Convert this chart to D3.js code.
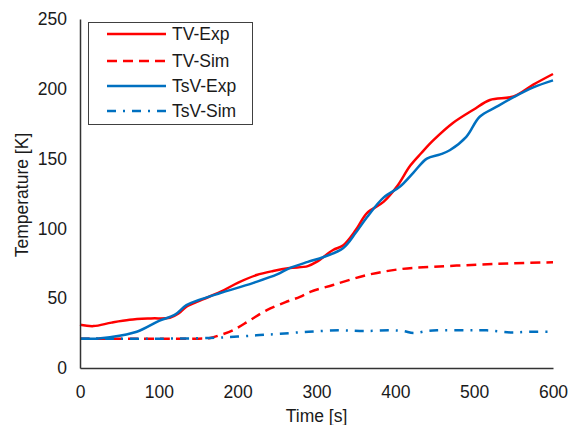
<!DOCTYPE html>
<html>
<head>
<meta charset="utf-8">
<script src="https://cdn.jsdelivr.net/npm/d3@7"></script>
<style>
  body { margin: 0; background: #fff; }
  svg text { font-family: "Liberation Sans", Arial, sans-serif; fill: #1a1a1a; }
</style>
</head>
<body>
<svg id="chart" width="570" height="425"></svg>
<script>
// values
var tvExpT   = [0, 17, 40, 63, 90, 114, 125, 135, 155, 178, 200, 224, 245, 266, 289, 300, 321, 334, 350, 364, 385, 402, 419, 433, 448, 473, 499, 520, 550, 575, 600];
var tvExpV   = [31, 30, 32.5, 34.5, 35.5, 36, 39, 44, 49, 54.5, 61, 66.6, 69.5, 71.6, 73, 76, 84.5, 88, 99, 111, 119, 130, 145, 154, 163, 175.5, 185, 192, 194.5, 203, 210.6];
var tvSimT   = [0, 50, 100, 150, 165, 180, 194, 215, 237, 260, 279, 292, 321, 364, 406, 448, 503, 550, 600];
var tvSimV   = [21, 21, 21, 21, 21.5, 24, 27, 34, 41.5, 47, 51, 54.5, 59.5, 66.6, 70.8, 72.5, 74, 75, 75.7];
var tsvExpT  = [0, 20, 38, 72, 101, 120, 135, 155, 178, 220, 250, 266, 289, 309, 334, 350, 364, 385, 406, 423, 440, 457, 469, 490, 507, 528, 550, 575, 600];
var tsvExpV  = [21, 21, 22, 26, 34, 38, 45, 49.5, 53.7, 61, 67, 71.6, 76, 79.5, 86, 97, 108, 122, 130, 140, 150, 153, 156, 165.6, 180, 187, 194, 201, 206];
var tsvSimT  = [0, 50, 100, 165, 200, 228, 254, 290, 330, 360, 393, 410, 423, 440, 453, 490, 516, 546, 570, 600];
var tsvSimV  = [21, 21, 21, 21.5, 22.5, 23.6, 24.5, 26, 27, 26.5, 27, 26.5, 25, 26.5, 27, 27, 27, 25.5, 26, 26];

var xTicks = [0, 100, 200, 300, 400, 500, 600];
var yTicks = [0, 50, 100, 150, 200, 250];

var series = [
  { name: "TV-Exp",  t: tvExpT,  v: tvExpV,  color: "#ff0000", dash: null },
  { name: "TV-Sim",  t: tvSimT,  v: tvSimV,  color: "#ff0000", dash: "10,6" },
  { name: "TsV-Exp", t: tsvExpT, v: tsvExpV, color: "#0070c0", dash: null },
  { name: "TsV-Sim", t: tsvSimT, v: tsvSimV, color: "#0070c0", dash: "9,7,2,7" }
];

var svg = d3.select("#chart");
var x = d3.scaleLinear().domain([0, 600]).range([80, 553]);
var y = d3.scaleLinear().domain([0, 250]).range([368, 19]);

var line = d3.line()
  .x(function (d) { return x(d[0]); })
  .y(function (d) { return y(d[1]); })
  .curve(d3.curveCatmullRom.alpha(0.5));

// draw sims first so experimental lines sit on top
[1, 3, 0, 2].forEach(function (i) {
  var s = series[i];
  svg.append("path")
    .datum(d3.zip(s.t, s.v))
    .attr("d", line)
    .attr("fill", "none")
    .attr("stroke", s.color)
    .attr("stroke-width", 2.5)
    .attr("stroke-dasharray", s.dash);
});

var yAxis = svg.append("g")
  .attr("transform", "translate(80,0)")
  .call(d3.axisLeft(y).tickValues(yTicks).tickSize(0).tickPadding(13));
var xAxis = svg.append("g")
  .attr("transform", "translate(0,368)")
  .call(d3.axisBottom(x).tickValues(xTicks).tickSize(0).tickPadding(18));

[xAxis, yAxis].forEach(function (a) {
  a.select(".domain").attr("stroke", "#333").attr("stroke-width", 1.5);
  a.selectAll("text").attr("font-size", 17.5).attr("fill", "#1a1a1a");
});

svg.append("text")
  .attr("x", 316.5).attr("y", 422)
  .attr("text-anchor", "middle")
  .attr("font-size", 17.5)
  .text("Time [s]");

svg.append("text")
  .attr("transform", "translate(28,195) rotate(-90)")
  .attr("text-anchor", "middle")
  .attr("font-size", 17.5)
  .text("Temperature [K]");

// legend
var lg = svg.append("g");
lg.append("rect")
  .attr("x", 88.5).attr("y", 22.5).attr("width", 164).attr("height", 102)
  .attr("fill", "#fff").attr("stroke", "#404040").attr("stroke-width", 1);
var legY = [34, 61, 86, 111];
series.forEach(function (s, i) {
  lg.append("line")
    .attr("x1", 107).attr("x2", 166)
    .attr("y1", legY[i]).attr("y2", legY[i])
    .attr("stroke", s.color).attr("stroke-width", 2.5)
    .attr("stroke-dasharray", s.dash);
  lg.append("text")
    .attr("x", 172).attr("y", legY[i])
    .attr("dy", "0.35em")
    .attr("font-size", 17.5)
    .text(s.name);
});
</script>
</body>
</html>
